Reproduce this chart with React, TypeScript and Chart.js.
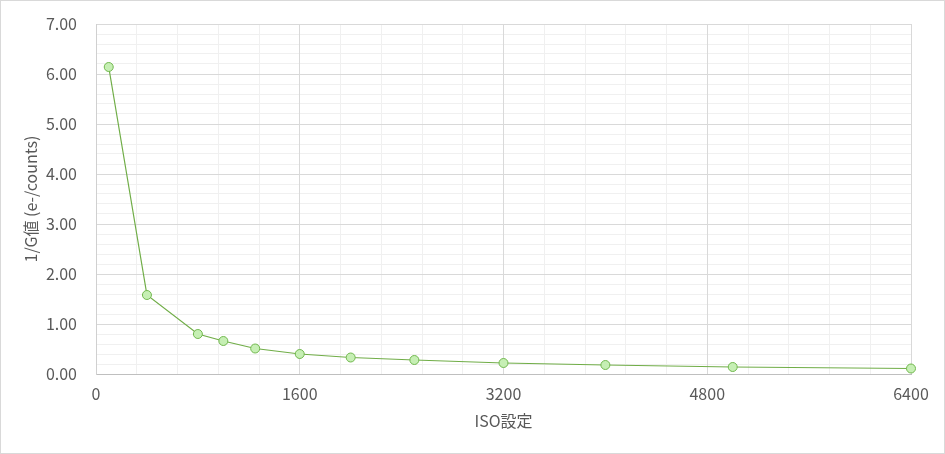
import { useEffect, useRef } from 'react';
import { Chart, registerables } from 'chart.js';

Chart.register(...registerables);

// ISO setting vs 1/G (e-/counts)
const isoValues = [100, 400, 800, 1000, 1250, 1600, 2000, 2500, 3200, 4000, 5000, 6400];
const invGain = [6.14, 1.58, 0.8, 0.66, 0.51, 0.4, 0.33, 0.28, 0.22, 0.18, 0.14, 0.11];

const xTickStep = 1600;
const yTickStep = 1;

const textColor = '#595959';
const fontFamily = '"Noto Sans CJK JP", "Noto Sans", sans-serif';

let chartInstance: Chart | null = null;

export default function App() {
    const canvasRef = useRef<HTMLCanvasElement>(null);

    useEffect(() => {
        document.body.style.margin = '0';
        const ctx = canvasRef.current!.getContext('2d')!;

        if (chartInstance) {
            chartInstance.destroy();
        }

        chartInstance = new Chart(ctx, {
            type: 'line',
            data: {
                datasets: [
                    {
                        label: '1/G値',
                        data: isoValues.map((iso, i) => ({ x: iso, y: invGain[i] })),
                        borderColor: '#70ad47',
                        borderWidth: 1.2,
                        pointRadius: 4.5,
                        pointBorderWidth: 1,
                        pointBackgroundColor: '#c6efb4',
                        pointBorderColor: '#72b84f',
                        tension: 0,
                        fill: false,
                        clip: false,
                    },
                ],
            },
            options: {
                animation: false,
                responsive: false,
                layout: { padding: { left: 0, top: 24, right: 34, bottom: 0 } },
                plugins: {
                    legend: { display: false },
                    tooltip: { enabled: false },
                },
                scales: {
                    xMinor: {
                        type: 'linear',
                        position: 'bottom',
                        min: 0,
                        max: 6400,
                        z: -1,
                        ticks: { display: false, stepSize: 320 },
                        grid: { color: '#f0f0f0', drawTicks: false },
                        border: { display: false },
                        afterFit: (s: any) => { s.height = 0; },
                    },
                    yMinor: {
                        type: 'linear',
                        position: 'left',
                        min: 0,
                        max: 7,
                        z: -1,
                        ticks: { display: false, stepSize: 0.2 },
                        grid: { color: '#f0f0f0', drawTicks: false },
                        border: { display: false },
                        afterFit: (s: any) => { s.width = 0; },
                    },
                    x: {
                        type: 'linear',
                        position: 'bottom',
                        min: 0,
                        max: 6400,
                        ticks: {
                            stepSize: xTickStep,
                            padding: 10,
                            color: textColor,
                            font: { family: fontFamily, size: 16 },
                            maxRotation: 0,
                            callback: (v: any) => String(v),
                        },
                        grid: { color: '#d9d9d9', drawTicks: false },
                        border: { color: '#bfbfbf' },
                        title: {
                            display: true,
                            text: 'ISO設定',
                            color: textColor,
                            font: { family: fontFamily, size: 16 },
                            padding: { top: 23, bottom: 23 },
                        },
                        afterFit: (s: any) => { s.height = 80; },
                    },
                    y: {
                        type: 'linear',
                        position: 'left',
                        min: 0,
                        max: 7,
                        ticks: {
                            stepSize: yTickStep,
                            padding: 19,
                            color: textColor,
                            font: { family: fontFamily, size: 16 },
                            callback: (v: any) => Number(v).toFixed(2),
                        },
                        grid: { color: '#d9d9d9', drawTicks: false },
                        border: { color: '#d0d0d0' },
                        title: {
                            display: true,
                            text: '1/G値 (e-/counts)',
                            color: textColor,
                            font: { family: fontFamily, size: 16 },
                            padding: { top: 21, bottom: 21 },
                        },
                        afterFit: (s: any) => {
                            s.width = 96;
                            s.paddingTop = 0;
                            s.paddingBottom = 0;
                        },
                    },
                },
            },
        } as any);

        return () => {
            chartInstance?.destroy();
            chartInstance = null;
        };
    }, []);

    return (
        <div style={{ position: 'relative', width: 945, height: 454 }}>
            <canvas ref={canvasRef} width={945} height={454} style={{ display: 'block' }} />
            <div
                style={{
                    position: 'absolute',
                    inset: 0,
                    border: '1px solid #d9d9d9',
                    boxSizing: 'border-box',
                    pointerEvents: 'none',
                }}
            />
        </div>
    );
}
